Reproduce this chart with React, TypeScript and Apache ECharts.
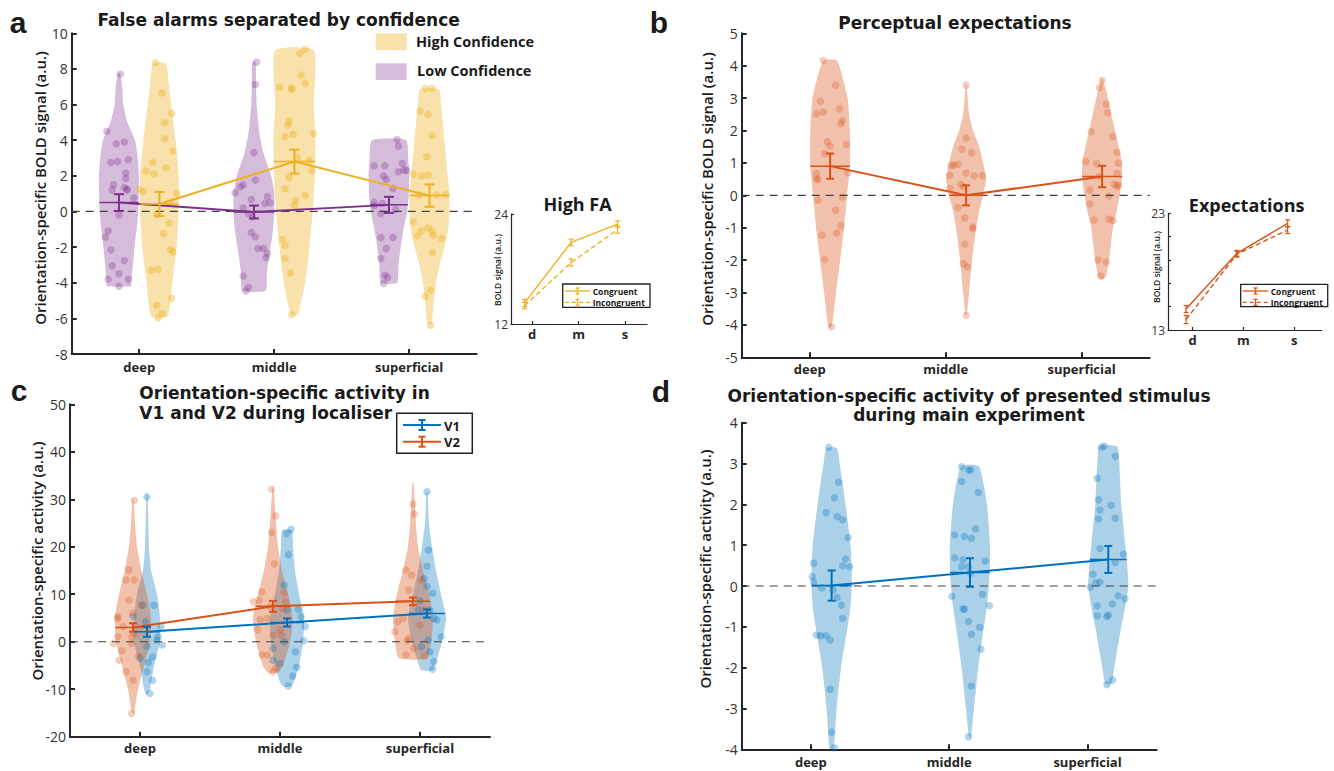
import React, { useEffect, useRef } from "react";
import * as echarts from "echarts";

type Pt = [number, number];

const layers = ["deep", "middle", "superficial"];
const insetLayers = ["d", "m", "s"];

// ---------------- Panel a : false alarms ----------------
const aLowMean = [0.5, -0.03, 0.37];
const aLowSem = [0.47, 0.36, 0.45];
const aHighMean = [0.42, 2.8, 0.89];
const aHighSem = [0.68, 0.67, 0.63];
// violin outlines: [value, half-width in category units]
const aLowShapes: Pt[][] = [
  [[7.75, 0.008], [7, 0.024], [6, 0.032], [5, 0.063], [4, 0.119], [3, 0.139], [2, 0.148], [1, 0.147], [0, 0.143], [-1, 0.131], [-2, 0.115], [-3, 0.103], [-4, 0.091], [-4.2, 0.091]],
  [[8.4, 0.012], [7, 0.016], [6, 0.02], [4.4, 0.04], [3.25, 0.071], [2, 0.127], [1, 0.151], [0, 0.151], [-1.2, 0.139], [-2.35, 0.115], [-3.5, 0.095], [-4.45, 0.087]],
  [[4.0, 0.127], [3, 0.143], [2, 0.151], [1, 0.147], [0, 0.135], [-1, 0.107], [-2, 0.087], [-3, 0.071], [-4, 0.06]],
];
const aHighShapes: Pt[][] = [
  [[8.3, 0.048], [7, 0.071], [6, 0.087], [4, 0.119], [2, 0.143], [0, 0.143], [-2, 0.127], [-4, 0.095], [-5.9, 0.06]],
  [[9.05, 0.143], [6, 0.143], [4, 0.155], [2, 0.151], [0, 0.135], [-2, 0.111], [-4, 0.079], [-5.8, 0.024]],
  [[6.85, 0.071], [6, 0.085], [4, 0.111], [2, 0.135], [1, 0.148], [0, 0.148], [-1, 0.14], [-2, 0.111], [-3, 0.075], [-4, 0.048], [-5, 0.032], [-6.3, 0.016]],
];
// points: [jitter, value]
const aLowPoints: Pt[][] = [
  [[0.01, 7.7], [-0.09, 4.5], [-0.02, 3.8], [0.04, 3.9], [-0.06, 2.75], [-0.01, 2.8], [0.07, 2.9], [0.05, 2.15], [0.05, 1.85], [0.04, 1.35], [0.06, 1.25], [0.11, 0.75], [-0.05, 1.2], [-0.1, -1.45], [-0.08, -1.1], [-0.06, -2.15], [0.04, -2.75], [-0.05, -3.05], [0.0, -3.5], [-0.08, -3.8], [0.07, -3.8], [0.0, -4.2], [0.0, -0.2], [0.06, 1.2], [-0.04, 1.5]],
  [[0.02, 8.37], [0.01, 7.13], [0, 3.31], [0.01, 1.76], [-0.08, 1.48], [-0.1, 1.39], [-0.14, 1.05], [0.1, 0.82], [0.12, 0.49], [-0.08, 0.21], [-0.04, -0.11], [-0.01, -0.3], [-0.02, -1.18], [0.01, -1.42], [0.03, -2.08], [0.07, -2.08], [0.1, -2.36], [0.09, -2.6], [-0.08, -3.63], [-0.04, -4.27], [-0.06, -4.46], [0.08, 0.45], [-0.02, 0.67]],
  [[0.06, 4.04], [0.07, 3.67], [-0.11, 2.57], [-0.03, 2.57], [0.1, 2.7], [0.11, 2.32], [0.07, 2.23], [-0.04, 1.99], [-0.02, 1.8], [0.03, 1.29], [-0.11, 0.51], [-0.05, 0.45], [0.05, 0.11], [-0.06, -0.11], [-0.06, -1.46], [0.03, -1.46], [-0.02, -2.08], [-0.06, -2.64], [-0.03, -3.58], [-0.01, -3.71], [-0.04, -4.04], [-0.11, 0.32], [0.13, 2.32]],
];
const aHighPoints: Pt[][] = [
  [[-0.03, 8.35], [0.02, 6.65], [0.09, 5.49], [0.04, 4.98], [0.04, 4.08], [0.1, 3.39], [-0.05, 2.75], [-0.1, 2.27], [-0.04, 2.1], [0.05, 2.45], [-0.15, 1.25], [-0.12, 1.14], [0.13, 1.01], [0.08, 0.5], [0.07, -0.64], [0.03, -1.24], [0.08, -2.13], [0.1, -2.27], [-0.06, -3.3], [-0.01, -3.26], [0.09, -4.89], [-0.02, -5.26], [0.02, -5.73], [-0.01, -5.97], [-0.02, -0.15]],
  [[0.08, 9.1], [0.04, 8.88], [0.05, 7.66], [0.08, 7.19], [-0.11, 6.97], [-0.02, 6.93], [-0.02, 6.85], [-0.04, 5.07], [-0.05, 4.85], [0.14, 4.38], [-0.01, 4.33], [-0.07, 4.19], [0.13, 2.28], [-0.04, 1.89], [-0.07, 1.27], [0.08, 0.9], [0.01, 0.64], [0, 0.36], [-0.09, -1.57], [-0.07, -1.89], [-0.07, -2.64], [-0.03, -3.45], [-0.02, -5.79], [0.11, 2.88], [0.02, 3.03]],
  [[-0.03, 6.91], [0.02, 6.91], [-0.07, 5.64], [-0.01, 5.45], [0.02, 4.25], [-0.02, 3.07], [-0.12, 2.1], [-0.06, 1.99], [-0.12, -0.58], [0.02, -1.09], [-0.01, -0.92], [-0.06, -1.1], [-0.09, -1.37], [0.09, -1.52], [0.02, -2.3], [0.01, -4.42], [0.01, -6.39], [-0.03, -4.76], [0.12, 0.97], [-0.08, 0.92], [0.03, -1.35], [-0.01, 2.04], [0.05, 0.92]],
];
// inset "High FA"
const faCongMean = [14.3, 20.9, 22.9];
const faCongSem = [0.4, 0.35, 0.35];
const faIncMean = [14.0, 18.7, 22.3];
const faIncSem = [0.35, 0.4, 0.4];

// ---------------- Panel b : perceptual expectations ----------------
const bMean = [0.9, 0.0, 0.58];
const bSem = [0.39, 0.31, 0.33];
const bShapes: Pt[][] = [
  [[4.15, 0.051], [3, 0.129], [2, 0.145], [1, 0.147], [0, 0.125], [-1, 0.103], [-2, 0.074], [-3, 0.044], [-4, 0.015], [-4.1, 0.004]],
  [[3.4, 0.004], [3, 0.011], [2.5, 0.022], [2, 0.051], [1.5, 0.096], [1, 0.125], [0.5, 0.147], [0, 0.125], [-0.5, 0.096], [-1, 0.074], [-2, 0.044], [-3, 0.022], [-3.7, 0.004]],
  [[3.58, 0.004], [3.15, 0.035], [2.12, 0.088], [1.09, 0.143], [0.58, 0.147], [0.06, 0.132], [-0.45, 0.11], [-0.97, 0.081], [-1.48, 0.066], [-2.0, 0.051], [-2.5, 0.029], [-2.6, 0.007]],
];
const bPoints: Pt[][] = [
  [[-0.05, 4.16], [0.04, 3.4], [-0.07, 2.9], [-0.1, 2.52], [-0.05, 2.57], [0.07, 2.67], [0.09, 2.31], [0.08, 2.21], [0.12, 1.57], [-0.02, 1.65], [0, 1.52], [-0.04, 1.29], [0.13, 0.69], [-0.1, 0.67], [-0.09, 0.49], [0.09, -0.05], [-0.09, -0.15], [0.04, -0.46], [0.08, -0.93], [0.05, -1.16], [-0.06, -1.23], [-0.04, -1.98], [0.01, -4.06], [-0.1, 0.51]],
  [[0, 3.4], [0, 1.77], [-0.03, 1.42], [0.04, 1.31], [-0.11, 0.93], [-0.06, 0.96], [-0.12, 0.62], [0, 0.69], [0.06, 0.6], [0.12, 0.6], [-0.04, 0.34], [-0.12, 0.21], [-0.02, 0.26], [-0.06, -0.38], [-0.01, -0.7], [0.05, -1.03], [0.05, -0.98], [-0.01, -1.51], [-0.02, -2.11], [0.01, -2.21], [0, -3.7], [-0.09, 0.93]],
  [[0, 3.54], [-0.02, 3.33], [0.03, 2.81], [0.04, 2.55], [-0.08, 1.96], [0.08, 1.81], [0.11, 1.32], [-0.12, 1.04], [-0.04, 0.97], [0.12, 0.99], [0.11, 0.68], [0.09, 0.34], [0.12, 0.32], [-0.09, 0.16], [0.05, -0.02], [-0.09, -0.27], [-0.06, -0.76], [0.05, -0.73], [0.08, -0.78], [-0.03, -2.0], [0.03, -2.06], [-0.01, -2.49], [-0.02, 0.58], [0.11, 0.27]],
];
// inset "Expectations"
const exCongMean = [14.8, 19.57, 22.14];
const exCongSem = [0.3, 0.25, 0.3];
const exIncMean = [13.9, 19.5, 21.57];
const exIncSem = [0.35, 0.25, 0.3];

// ---------------- Panel c : V1 / V2 localiser ----------------
const cV1Mean = [2.1, 4.05, 5.95];
const cV1Sem = [1.05, 0.85, 0.85];
const cV2Mean = [3.0, 7.45, 8.5];
const cV2Sem = [0.9, 1.15, 0.8];
const cV2Shapes: Pt[][] = [
  [[30, 0.004], [25, 0.014], [20, 0.029], [15, 0.06], [10, 0.1], [5, 0.129], [0, 0.122], [-5, 0.079], [-10, 0.036], [-15, 0.007]],
  [[32.5, 0.004], [25, 0.021], [20, 0.036], [15, 0.064], [10, 0.107], [5, 0.143], [0, 0.122], [-5, 0.072], [-6.5, 0.036]],
  [[33.5, 0.004], [25, 0.021], [20, 0.036], [15, 0.072], [10, 0.115], [5, 0.143], [0, 0.129], [-3.5, 0.1]],
];
const cV1Shapes: Pt[][] = [
  [[31, 0.004], [20, 0.014], [15, 0.029], [10, 0.072], [5, 0.093], [0, 0.093], [-5, 0.05], [-10, 0.021], [-11, 0.007]],
  [[23.5, 0.036], [20, 0.043], [15, 0.057], [10, 0.086], [5, 0.122], [0, 0.115], [-5, 0.086], [-9, 0.043], [-9.5, 0.021]],
  [[31.5, 0.004], [25, 0.014], [20, 0.036], [15, 0.064], [10, 0.1], [5, 0.136], [0, 0.107], [-5, 0.057], [-6, 0.043]],
];
const cV2Points: Pt[][] = [
  [[0.01, 29.8], [-0.03, 15.1], [-0.05, 13], [0.01, 13], [-0.03, 8.8], [-0.11, 5.3], [-0.11, 4.9], [0, 6], [0.06, 7.7], [-0.07, 3.2], [-0.11, 1.05], [-0.14, -0.35], [-0.08, -1.9], [-0.01, 1.05], [0.01, 1.75], [-0.1, -3.9], [-0.05, -6.3], [0, -8.1], [-0.01, -15.1], [0.04, -3], [-0.01, -0.35]],
  [[-0.01, 32.1], [0.02, 26.5], [-0.01, 23], [0.01, 16.4], [-0.08, 10.5], [-0.14, 8.4], [-0.1, 8.8], [0.08, 10.3], [0.09, 8.4], [-0.04, 4.9], [-0.09, 4.7], [-0.11, 2.5], [0, 1.4], [0.06, 1.4], [0.05, 2.5], [-0.08, -2.8], [-0.04, -2.8], [0.02, -5.6], [0, -6.3], [0.07, 7], [-0.02, 7.4]],
  [[0, 29], [0.01, 26.9], [-0.05, 15.1], [-0.01, 14], [-0.03, 10.9], [0.06, 13], [-0.11, 4.2], [-0.07, 4.9], [-0.13, 2.1], [-0.03, 0.7], [-0.04, 0.2], [-0.05, -2.8], [0.08, -3], [0.005, -1.4], [0.05, 3.5], [0.08, 6.7]],
];
const cV1Points: Pt[][] = [
  [[0, 30.5], [-0.03, 7.7], [0.05, 7.7], [-0.1, 5.3], [-0.01, 4.2], [0.1, 3.2], [0.08, 1.05], [0, -1.05], [0.11, -0.7], [0.04, -3.2], [-0.05, -3.5], [0.01, -4.4], [0, -6.3], [0.04, -8.1], [0.02, -10.9], [0.07, 0.35]],
  [[0.03, 23.7], [0, 22.8], [0.01, 18.3], [-0.02, 11.9], [0, 6.7], [0.08, 6.8], [0.1, 5.3], [0.13, 3.2], [0.12, 0.2], [-0.02, 0], [0.06, -2.1], [-0.1, -1.4], [-0.1, -3.9], [0.07, -5.4], [0.04, -7.2], [0.01, -9.3], [-0.05, -4.6]],
  [[0, 31.6], [0.01, 19.3], [0, 15.9], [-0.02, 13.3], [0, 11.7], [0.04, 10.2], [-0.05, 8.6], [0.05, 4.9], [0.02, 6.7], [0.1, 1.05], [0.01, 0.35], [-0.04, -1.05], [0.02, -2.1], [0.05, -4.2], [0.04, -5.8], [-0.06, 6.7], [0.07, 4.6]],
];

// ---------------- Panel d : presented stimulus ----------------
const dMean = [0.01, 0.33, 0.65];
const dSem = [0.37, 0.35, 0.33];
const dShapes: Pt[][] = [
  [[3.38, 0.038], [3, 0.058], [2, 0.101], [1, 0.137], [0.5, 0.145], [0, 0.145], [-0.5, 0.137], [-1, 0.116], [-2, 0.068], [-3, 0.036], [-4, 0.014]],
  [[2.93, 0.065], [2, 0.123], [1, 0.145], [0.5, 0.145], [0, 0.137], [-0.5, 0.123], [-1, 0.101], [-2, 0.06], [-3, 0.029], [-3.7, 0.007]],
  [[3.42, 0.065], [3, 0.08], [2, 0.094], [1, 0.123], [0.5, 0.137], [0, 0.145], [-0.5, 0.123], [-1, 0.094], [-2, 0.043], [-2.4, 0.022]],
];
const dPoints: Pt[][] = [
  [[-0.02, 3.4], [0.05, 2.54], [0.02, 2.16], [-0.04, 1.8], [0.04, 1.7], [0.08, 1.62], [0.12, 1.19], [0.1, 0.66], [0.08, 0.49], [0.13, 0.47], [-0.13, 0.56], [-0.14, 0.23], [-0.13, 0.1], [-0.07, -0.04], [0.01, -0.1], [0.04, -0.28], [0.07, -0.47], [0.08, -0.79], [-0.11, -1.2], [-0.08, -1.22], [-0.04, -1.22], [-0.01, -1.32], [-0.01, -2.53], [0, -3.58], [0.02, -3.96]],
  [[-0.06, 2.92], [-0.01, 2.84], [0.005, 2.84], [-0.06, 2.56], [0.06, 2.29], [0.04, 1.4], [-0.11, 1.25], [-0.04, 1.21], [0.01, 1.17], [-0.11, 0.69], [-0.05, 0.64], [-0.01, 0.47], [-0.06, 0.47], [0.11, 0.61], [0.005, 0.31], [-0.13, -0.26], [0.09, -0.2], [0.14, -0.48], [-0.05, -0.56], [-0.04, -0.57], [-0.01, -0.87], [0.07, -1.01], [0.01, -1.18], [0.08, -1.55], [0.01, -2.45], [-0.01, -3.69]],
  [[-0.05, 3.4], [-0.03, 3.43], [0.05, 3.18], [-0.08, 2.64], [-0.07, 2.11], [0.02, 1.98], [-0.06, 1.86], [-0.07, 1.64], [0.05, 1.66], [-0.06, 0.92], [0.11, 0.78], [0.05, 0.57], [-0.11, 0.29], [-0.06, 0.09], [-0.09, 0.08], [-0.13, -0.03], [0.07, -0.24], [0.12, -0.31], [0.03, -0.44], [-0.08, -0.49], [-0.08, -0.73], [-0.01, -0.75], [0, -0.71], [0.03, -2.3], [-0.01, -2.42]],
];

// ---------------- styling ----------------
const FONT = '"Open Sans", "DejaVu Sans", sans-serif';
const TITLE_FONT = '"DejaVu Sans", "Open Sans", sans-serif';
const AX = "#262626";
const PURPLE = "#7E2F8E";
const YELLOW = "#EDB120";
const ORANGE = "#D95319";
const BLUE = "#0072BD";
const rgba = (hex: string, a: number) => {
  const n = parseInt(hex.slice(1), 16);
  return `rgba(${(n >> 16) & 255},${(n >> 8) & 255},${n & 255},${a})`;
};

function interpHW(shape: Pt[], y: number): number {
  for (let i = 0; i < shape.length - 1; i++) {
    const [y0, w0] = shape[i];
    const [y1, w1] = shape[i + 1];
    if (y <= y0 && y >= y1) {
      const t = (y0 - y) / (y0 - y1 || 1);
      return w0 + (w1 - w0) * t;
    }
  }
  return 0.1;
}

function violinSeries(grid: number, shapes: Pt[][], offset: number, fill: string) {
  return {
    type: "custom",
    xAxisIndex: grid,
    yAxisIndex: grid,
    silent: true,
    z: 1,
    data: shapes.map((s, i) => [i + 1 + offset, s[0][0]]),
    renderItem: (params: any, api: any) => {
      const s = shapes[params.dataIndex];
      const cx = params.dataIndex + 1 + offset;
      const right = s.map(([y, w]) => api.coord([cx + w, y]));
      const left = s.slice().reverse().map(([y, w]) => api.coord([cx - w, y]));
      return {
        type: "polygon",
        shape: { points: right.concat(left), smooth: 0.18 },
        style: { fill, stroke: "none" },
      };
    },
  };
}

function pointsSeries(grid: number, pts: Pt[][], offset: number, color: string, size = 7.5) {
  const data: number[][] = [];
  pts.forEach((arr, i) => arr.forEach(([j, v]) => data.push([i + 1 + offset + j, v])));
  return {
    type: "scatter",
    xAxisIndex: grid,
    yAxisIndex: grid,
    data,
    symbolSize: size,
    itemStyle: { color },
    silent: true,
    z: 2,
  };
}

function meanLine(grid: number, means: number[], offset: number, color: string, width = 2, dashed = false) {
  return {
    type: "line",
    xAxisIndex: grid,
    yAxisIndex: grid,
    data: means.map((m, i) => [i + 1 + offset, m]),
    symbol: "none",
    lineStyle: { color, width, type: dashed ? [5, 3] : "solid" },
    silent: true,
    z: 4,
  };
}

function errSeries(grid: number, means: number[], sems: number[], offset: number, color: string, shapes: Pt[][] | null, cap = 4, width = 2) {
  return {
    type: "custom",
    xAxisIndex: grid,
    yAxisIndex: grid,
    silent: true,
    z: 5,
    data: means.map((m, i) => [i + 1 + offset, m, sems[i], shapes ? interpHW(shapes[i], m) : 0]),
    renderItem: (params: any, api: any) => {
      const x = api.value(0);
      const m = api.value(1);
      const e = api.value(2);
      const hw = api.value(3);
      const top = api.coord([x, m + e]);
      const bot = api.coord([x, m - e]);
      const st = { stroke: color, lineWidth: width };
      const children: any[] = [
        { type: "line", shape: { x1: top[0], y1: top[1], x2: bot[0], y2: bot[1] }, style: st },
        { type: "line", shape: { x1: top[0] - cap, y1: top[1], x2: top[0] + cap, y2: top[1] }, style: st },
        { type: "line", shape: { x1: bot[0] - cap, y1: bot[1], x2: bot[0] + cap, y2: bot[1] }, style: st },
      ];
      if (hw > 0) {
        const l = api.coord([x - hw, m]);
        const r = api.coord([x + hw, m]);
        children.push({ type: "line", shape: { x1: l[0], y1: l[1], x2: r[0], y2: r[1] }, style: { stroke: color, lineWidth: 1.5 } });
      }
      return { type: "group", children };
    },
  };
}

function zeroLine(grid: number) {
  return {
    type: "line",
    xAxisIndex: grid,
    yAxisIndex: grid,
    data: [[0.5, 0], [3.5, 0]],
    symbol: "none",
    lineStyle: { color: "#404040", width: 1.2, type: [8, 6] },
    silent: true,
    z: 3,
  };
}

function xAxisCfg(gridIndex: number, min: number, max: number, labels: string[], small: boolean, margin: number) {
  return {
    type: "value",
    gridIndex,
    min,
    max,
    axisLine: { show: true, onZero: false, lineStyle: { color: AX, width: small ? 1.2 : 2 } },
    axisTick: { show: true, inside: true, length: small ? 3 : 5, customValues: [1, 2, 3], lineStyle: { color: AX, width: small ? 1.2 : 2 } },
    axisLabel: {
      show: true,
      customValues: [1, 2, 3],
      formatter: (v: number) => (Number.isInteger(v) && v >= 1 && v <= 3 ? labels[v - 1] : ""),
      fontFamily: FONT,
      fontWeight: "bold",
      fontSize: 13,
      color: "#262626",
      margin,
    },
    splitLine: { show: false },
  };
}

function yAxisCfg(gridIndex: number, min: number, max: number, tickVals: number[], labelVals: number[], small: boolean) {
  return {
    type: "value",
    gridIndex,
    min,
    max,
    axisLine: { show: true, onZero: false, lineStyle: { color: AX, width: small ? 1.2 : 2 } },
    axisTick: { show: true, inside: true, length: small ? 3 : 5, customValues: tickVals, lineStyle: { color: AX, width: small ? 1.2 : 2 } },
    axisLabel: {
      show: true,
      customValues: labelVals,
      fontFamily: FONT,
      fontSize: small ? 12 : 14,
      color: "#333",
      margin: small ? 3 : 4,
    },
    splitLine: { show: false },
  };
}

const range = (a: number, b: number, s: number) => {
  const r: number[] = [];
  for (let v = a; v <= b + 1e-9; v += s) r.push(Math.round(v * 100) / 100);
  return r;
};

function txt(x: number, y: number, text: string, size: number, weight: string | number, align = "center", rotation = 0, family = FONT) {
  return {
    type: "text",
    x,
    y,
    rotation,
    silent: true,
    z: 100,
    style: {
      text,
      font: `${weight} ${size}px ${family}`,
      fill: "#1a1a1a",
      textAlign: align,
      textVerticalAlign: "middle",
    },
  };
}

function legendRow(x1: number, x2: number, y: number, color: string, dashed: boolean, cap: number, h: number, lw: number) {
  const xm = (x1 + x2) / 2;
  return [
    { type: "line", silent: true, z: 101, shape: { x1, y1: y, x2, y2: y }, style: { stroke: color, lineWidth: lw, lineDash: dashed ? [4, 3] : null } },
    { type: "line", silent: true, z: 101, shape: { x1: xm, y1: y - h, x2: xm, y2: y + h }, style: { stroke: color, lineWidth: lw } },
    { type: "line", silent: true, z: 101, shape: { x1: xm - cap, y1: y - h, x2: xm + cap, y2: y - h }, style: { stroke: color, lineWidth: lw } },
    { type: "line", silent: true, z: 101, shape: { x1: xm - cap, y1: y + h, x2: xm + cap, y2: y + h }, style: { stroke: color, lineWidth: lw } },
  ];
}

function buildOption() {
  const grids = [
    { left: 71.7, top: 33.3, width: 405, height: 320.7 }, // a
    { left: 511, top: 214, width: 136, height: 110 }, // a inset
    { left: 741.7, top: 33.3, width: 408, height: 324 }, // b
    { left: 1168, top: 213.3, width: 153.7, height: 116.7 }, // b inset
    { left: 70, top: 404.3, width: 420, height: 332.4 }, // c
    { left: 741.7, top: 422.7, width: 415, height: 326.6 }, // d
  ].map((g) => ({ ...g, containLabel: false, outerBoundsMode: "none" }));

  const xAxis = [
    xAxisCfg(0, 0.5, 3.5, layers, false, 6),
    xAxisCfg(1, 0.548, 3.473, insetLayers, true, 3),
    xAxisCfg(2, 0.5, 3.5, layers, false, 5),
    xAxisCfg(3, 0.514, 3.54, insetLayers, true, 3),
    xAxisCfg(4, 0.5, 3.5, layers, false, 5),
    xAxisCfg(5, 0.5, 3.5, layers, false, 6),
  ];
  const yAxis = [
    yAxisCfg(0, -8, 10, range(-8, 10, 2), range(-8, 10, 2), false),
    yAxisCfg(1, 12, 24, [12, 24], [12, 24], true),
    yAxisCfg(2, -5, 5, range(-5, 5, 1), range(-5, 5, 1), false),
    yAxisCfg(3, 13, 23, range(13, 23, 2), [13, 23], true),
    yAxisCfg(4, -20, 50, range(-20, 50, 10), range(-20, 50, 10), false),
    yAxisCfg(5, -4, 4, range(-4, 4, 1), range(-4, 4, 1), false),
  ];

  const series: any[] = [
    // a
    violinSeries(0, aLowShapes, -0.15, rgba(PURPLE, 0.32)),
    violinSeries(0, aHighShapes, 0.15, rgba(YELLOW, 0.38)),
    pointsSeries(0, aLowPoints, -0.15, rgba(PURPLE, 0.38)),
    pointsSeries(0, aHighPoints, 0.15, rgba(YELLOW, 0.5)),
    zeroLine(0),
    meanLine(0, aLowMean, -0.15, PURPLE),
    meanLine(0, aHighMean, 0.15, YELLOW),
    errSeries(0, aLowMean, aLowSem, -0.15, PURPLE, aLowShapes, 5),
    errSeries(0, aHighMean, aHighSem, 0.15, YELLOW, aHighShapes, 5),
    // a inset
    meanLine(1, faCongMean, -0.16, YELLOW, 1.4),
    meanLine(1, faIncMean, -0.16, YELLOW, 1.4, true),
    errSeries(1, faCongMean, faCongSem, -0.16, YELLOW, null, 2.5, 1.2),
    errSeries(1, faIncMean, faIncSem, -0.16, YELLOW, null, 2.5, 1.2),
    // b
    violinSeries(2, bShapes, 0.15, rgba(ORANGE, 0.36)),
    pointsSeries(2, bPoints, 0.15, rgba(ORANGE, 0.35)),
    zeroLine(2),
    meanLine(2, bMean, 0.15, ORANGE),
    errSeries(2, bMean, bSem, 0.15, ORANGE, bShapes, 4),
    // b inset
    meanLine(3, exCongMean, -0.13, ORANGE, 1.4),
    meanLine(3, exIncMean, -0.13, ORANGE, 1.4, true),
    errSeries(3, exCongMean, exCongSem, -0.13, ORANGE, null, 2.5, 1.2),
    errSeries(3, exIncMean, exIncSem, -0.13, ORANGE, null, 2.5, 1.2),
    // c
    violinSeries(4, cV1Shapes, 0.05, rgba(BLUE, 0.33)),
    violinSeries(4, cV2Shapes, -0.05, rgba(ORANGE, 0.36)),
    pointsSeries(4, cV1Points, 0.05, rgba(BLUE, 0.38)),
    pointsSeries(4, cV2Points, -0.05, rgba(ORANGE, 0.35)),
    zeroLine(4),
    meanLine(4, cV2Mean, -0.05, ORANGE),
    meanLine(4, cV1Mean, 0.05, BLUE),
    errSeries(4, cV2Mean, cV2Sem, -0.05, ORANGE, cV2Shapes, 4),
    errSeries(4, cV1Mean, cV1Sem, 0.05, BLUE, cV1Shapes, 4),
    // d
    violinSeries(5, dShapes, 0.15, rgba(BLUE, 0.33)),
    pointsSeries(5, dPoints, 0.15, rgba(BLUE, 0.38)),
    zeroLine(5),
    meanLine(5, dMean, 0.15, BLUE),
    errSeries(5, dMean, dSem, 0.15, BLUE, dShapes, 4),
  ];

  const LETTER = '"Liberation Sans", Arial, sans-serif';
  const graphic: any[] = [
    // panel letters
    txt(18, 22, "a", 30, "bold", "center", 0, LETTER),
    txt(659, 22, "b", 30, "bold", "center", 0, LETTER),
    txt(19, 390, "c", 30, "bold", "center", 0, LETTER),
    txt(661, 391, "d", 30, "bold", "center", 0, LETTER),
    // titles
    txt(278.6, 20, "False alarms separated by confidence", 17, "bold", "center", 0, TITLE_FONT),
    txt(955, 23, "Perceptual expectations", 17, "bold", "center", 0, TITLE_FONT),
    txt(139.3, 393, "Orientation-specific activity in", 17, "bold", "left", 0, TITLE_FONT),
    txt(139.3, 413, "V1 and V2 during localiser", 17, "bold", "left", 0, TITLE_FONT),
    txt(969, 395.5, "Orientation-specific activity of presented stimulus", 17, "bold", "center", 0, TITLE_FONT),
    txt(969, 415, "during main experiment", 17, "bold", "center", 0, TITLE_FONT),
    txt(577.5, 204, "High FA", 18, "bold"),
    txt(1246.7, 205, "Expectations", 18, "bold"),
    // y axis names
    txt(40, 188, "Orientation-specific BOLD signal (a.u.)", 15, 600, "center", Math.PI / 2),
    txt(706.7, 189, "Orientation-specific BOLD signal (a.u.)", 15, 600, "center", Math.PI / 2),
    txt(36.7, 561, "Orientation-specific activity (a.u.)", 15, 600, "center", Math.PI / 2),
    txt(705, 569, "Orientation-specific activity (a.u.)", 15, 600, "center", Math.PI / 2),
    txt(497, 270, "BOLD signal (a.u.)", 8.5, 600, "center", Math.PI / 2),
    txt(1156.7, 267, "BOLD signal (a.u.)", 8.5, 600, "center", Math.PI / 2),
    // legend a
    { type: "rect", silent: true, z: 100, shape: { x: 375.7, y: 33.3, width: 31, height: 16.7 }, style: { fill: rgba(YELLOW, 0.38) } },
    { type: "rect", silent: true, z: 100, shape: { x: 375.7, y: 63.3, width: 31, height: 16.7 }, style: { fill: rgba(PURPLE, 0.32) } },
    txt(416, 41.5, "High Confidence", 14.5, "bold", "left"),
    txt(417, 70.5, "Low Confidence", 14.5, "bold", "left"),
    // legend c
    { type: "rect", silent: true, z: 100, shape: { x: 396.7, y: 413.3, width: 75.6, height: 40 }, style: { fill: "#fff", stroke: "#222", lineWidth: 1.5 } },
    ...legendRow(403, 441, 425, BLUE, false, 3.5, 5, 2),
    ...legendRow(403, 441, 441.7, ORANGE, false, 3.5, 5, 2),
    txt(444, 425.5, "V1", 13, "bold", "left"),
    txt(444, 442, "V2", 13, "bold", "left"),
    // legend inset a
    { type: "rect", silent: true, z: 100, shape: { x: 562.7, y: 284, width: 87.3, height: 23.3 }, style: { fill: "#fff", stroke: "#222", lineWidth: 1.3 } },
    ...legendRow(565, 590, 291, YELLOW, false, 2, 3, 1.3),
    ...legendRow(565, 590, 302.3, YELLOW, true, 2, 3, 1.3),
    txt(592.7, 291, "Congruent", 8.5, "bold", "left"),
    txt(592.7, 302.3, "Incongruent", 8.5, "bold", "left"),
    // legend inset b
    { type: "rect", silent: true, z: 100, shape: { x: 1240.7, y: 284.3, width: 87, height: 22.4 }, style: { fill: "#fff", stroke: "#222", lineWidth: 1.3 } },
    ...legendRow(1242.7, 1268.3, 291, ORANGE, false, 2, 3, 1.3),
    ...legendRow(1242.7, 1268.3, 302.3, ORANGE, true, 2, 3, 1.3),
    txt(1270.7, 291, "Congruent", 8.5, "bold", "left"),
    txt(1270.7, 302.3, "Incongruent", 8.5, "bold", "left"),
  ];

  return {
    animation: false,
    backgroundColor: "#ffffff",
    textStyle: { fontFamily: FONT },
    grid: grids,
    xAxis,
    yAxis,
    series,
    graphic,
  };
}

export default function App() {
  const ref = useRef<HTMLDivElement>(null);
  useEffect(() => {
    if (!ref.current) return;
    const chart = echarts.init(ref.current, null, { renderer: "svg" });
    chart.setOption(buildOption() as any);
    return () => chart.dispose();
  }, []);
  return (
    <div
      ref={ref}
      style={{ position: "absolute", left: 0, top: 0, width: 1334, height: 771, background: "#fff" }}
    />
  );
}
